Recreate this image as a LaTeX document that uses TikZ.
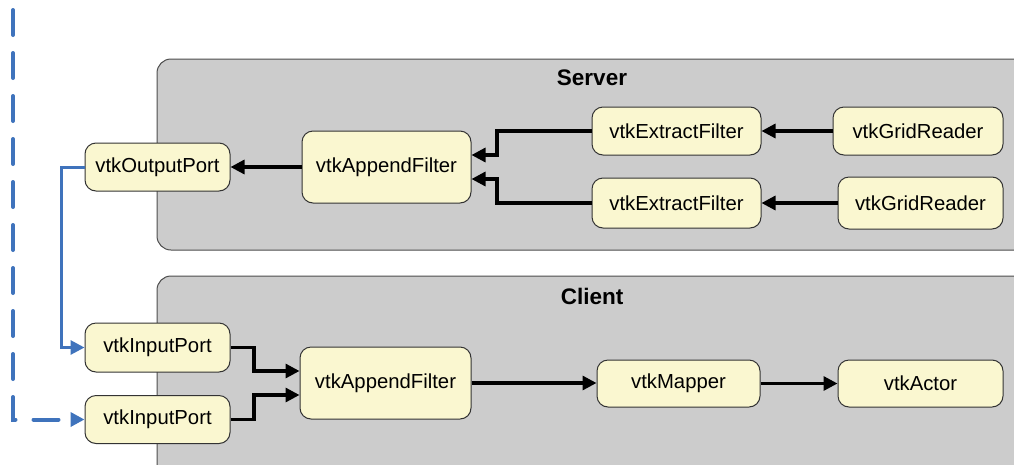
\documentclass[tikz,border=0pt]{standalone}
\usepackage{fontspec}
\setmainfont{Liberation Sans}
\usetikzlibrary{arrows.meta}
\definecolor{boxfill}{HTML}{CCCCCC}
\definecolor{boxline}{HTML}{4D4D4D}
\definecolor{unitfill}{HTML}{FAF7D0}
\definecolor{unitline}{HTML}{333333}
\definecolor{link}{HTML}{3F73BC}
\tikzset{
  region/.style={fill=boxfill, draw=boxline, line width=1pt, rounded corners=14pt},
  title/.style={font=\fontsize{22.5}{26}\selectfont\bfseries},
  unit/.style={fill=unitfill, draw=unitline, line width=1pt, rounded corners=11pt,
    inner sep=0pt, font=\fontsize{20.3}{23}\selectfont},
  flow/.style={line width=3.2pt, -{Triangle[length=14pt,width=14pt]}},
  remote/.style={link, line width=3pt, -{Triangle[length=14pt,width=14pt]}},
  remotedash/.style={link, line width=4pt, line cap=round, dash pattern=on 25pt off 18pt,
    -{Triangle[length=14pt,width=14pt]}},
}
\begin{document}
\begin{tikzpicture}[x=1pt,y=-1pt]
  \useasboundingbox (0,0) rectangle (1014,464);
  \clip (0,0) rectangle (1014,464);

  % process regions
  \draw[region] (157,59) rectangle (1040,250);
  \draw[region] (157,276) rectangle (1040,490);
  \node[title] (srv) at (592,78) {Server};
  \node[title] (cli) at (592,296) {Client};

  % server pipeline
  \node[unit, minimum width=145pt, minimum height=48pt] (out) at (157.5,167) {vtkOutputPort};
  \node[unit, minimum width=169pt, minimum height=72pt] (sapp) at (386.5,167) {vtkAppendFilter};
  \node[unit, minimum width=169pt, minimum height=48pt] (ext1) at (676.5,131) {vtkExtractFilter};
  \node[unit, minimum width=169pt, minimum height=50pt] (ext2) at (676.5,203) {vtkExtractFilter};
  \node[unit, minimum width=170pt, minimum height=48pt] (grd1) at (918,131) {vtkGridReader};
  \node[unit, minimum width=165pt, minimum height=52pt] (grd2) at (920.5,203) {vtkGridReader};

  % client pipeline
  \node[unit, minimum width=145pt, minimum height=49pt] (in1) at (157.5,347.5) {vtkInputPort};
  \node[unit, minimum width=145pt, minimum height=48pt] (in2) at (157.5,419.5) {vtkInputPort};
  \node[unit, minimum width=171pt, minimum height=72pt] (capp) at (385.5,383) {vtkAppendFilter};
  \node[unit, minimum width=163pt, minimum height=47pt] (map) at (678.5,383.5) {vtkMapper};
  \node[unit, minimum width=165pt, minimum height=47pt] (act) at (920.5,383.5) {vtkActor};

  % server connections
  \draw[flow] (grd1.west) -- (ext1.east);
  \draw[flow] (grd2.west) -- (ext2.east |- grd2.west);
  \draw[flow] (ext1.west) -| (497,155) -- (sapp.east |- 0,155);
  \draw[flow] (ext2.west) -| (497,179) -- (sapp.east |- 0,179);
  \draw[flow] (sapp.west) -- (out.east);

  % client connections
  \draw[flow] (in1.east) -| (254,371) -- (capp.west |- 0,371);
  \draw[flow] (in2.east) -| (254,395) -- (capp.west |- 0,395);
  \draw[flow] (capp.east) -- (map.west |- capp.east);
  \draw[flow] (map.east) -- (act.west);

  % links between processes
  \coordinate (top) at (13,10);
  \draw[remote] (out.west) -| (61,347.5) -- (in1.west);
  \draw[remotedash] (top) |- (in2.west);
\end{tikzpicture}
\end{document}
